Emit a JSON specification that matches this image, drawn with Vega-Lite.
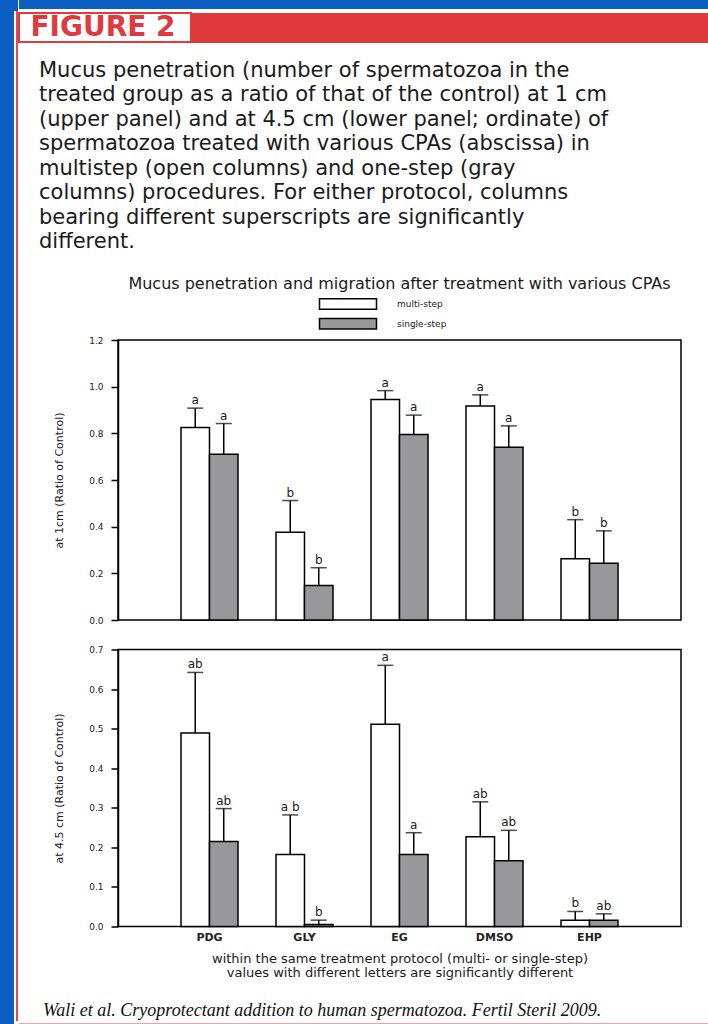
{
  "$schema": "https://vega.github.io/schema/vega-lite/v6.json",
  "background": "white",
  "padding": 0,
  "spacing": 0,
  "config": {
    "view": {"stroke": null},
    "concat": {"spacing": 0},
    "font": "DejaVu Sans"
  },
  "datasets": {
    "upper": [
      {"cpa": "PDG", "protocol": "multi-step", "mean": 0.825, "upper": 0.908, "sig": "a"},
      {"cpa": "PDG", "protocol": "single-step", "mean": 0.71, "upper": 0.842, "sig": "a"},
      {"cpa": "GLY", "protocol": "multi-step", "mean": 0.376, "upper": 0.512, "sig": "b"},
      {"cpa": "GLY", "protocol": "single-step", "mean": 0.148, "upper": 0.224, "sig": "b"},
      {"cpa": "EG", "protocol": "multi-step", "mean": 0.945, "upper": 0.983, "sig": "a"},
      {"cpa": "EG", "protocol": "single-step", "mean": 0.795, "upper": 0.878, "sig": "a"},
      {"cpa": "DMSO", "protocol": "multi-step", "mean": 0.917, "upper": 0.965, "sig": "a"},
      {"cpa": "DMSO", "protocol": "single-step", "mean": 0.74, "upper": 0.832, "sig": "a"},
      {"cpa": "EHP", "protocol": "multi-step", "mean": 0.262, "upper": 0.43, "sig": "b"},
      {"cpa": "EHP", "protocol": "single-step", "mean": 0.243, "upper": 0.382, "sig": "b"}
    ],
    "lower": [
      {"cpa": "PDG", "protocol": "multi-step", "mean": 0.489, "upper": 0.642, "sig": "ab"},
      {"cpa": "PDG", "protocol": "single-step", "mean": 0.215, "upper": 0.298, "sig": "ab"},
      {"cpa": "GLY", "protocol": "multi-step", "mean": 0.182, "upper": 0.282, "sig": "a b"},
      {"cpa": "GLY", "protocol": "single-step", "mean": 0.005, "upper": 0.016, "sig": "b"},
      {"cpa": "EG", "protocol": "multi-step", "mean": 0.511, "upper": 0.66, "sig": "a"},
      {"cpa": "EG", "protocol": "single-step", "mean": 0.182, "upper": 0.237, "sig": "a"},
      {"cpa": "DMSO", "protocol": "multi-step", "mean": 0.227, "upper": 0.315, "sig": "ab"},
      {"cpa": "DMSO", "protocol": "single-step", "mean": 0.166, "upper": 0.243, "sig": "ab"},
      {"cpa": "EHP", "protocol": "multi-step", "mean": 0.016, "upper": 0.038, "sig": "b"},
      {"cpa": "EHP", "protocol": "single-step", "mean": 0.016, "upper": 0.032, "sig": "ab"}
    ]
  },
  "hconcat": [
    {
      "spacing": 0,
      "hconcat": [
        {"width": 14, "height": 1024, "data": {"values": []}, "mark": "rect", "view": {"fill": "#0b5ec2", "stroke": null}},
        {
          "spacing": 0,
          "vconcat": [
            {"width": 4, "height": 11, "data": {"values": []}, "mark": "rect", "view": {"fill": "#0b5ec2", "stroke": null}},
            {
              "spacing": 0,
              "hconcat": [
                {"width": 2, "height": 1010, "data": {"values": []}, "mark": "rect"},
                {"width": 2, "height": 1010, "data": {"values": []}, "mark": "rect", "view": {"fill": "#e34a4e", "stroke": null}}
              ]
            }
          ]
        }
      ]
    },
    {
      "spacing": 0,
      "vconcat": [
        {"width": 690, "height": 9, "data": {"values": []}, "mark": "rect", "view": {"fill": "#0b5ec2", "stroke": null}},
        {"width": 690, "height": 3, "data": {"values": []}, "mark": "rect"},
        {
          "spacing": 0,
          "hconcat": [
            {
              "width": 172, "height": 29,
              "data": {"values": [{"t": "FIGURE 2"}]},
              "mark": {"type": "text", "fontSize": 28, "fontWeight": "bold", "color": "#e0393e", "font": "DejaVu Sans", "dx": -2},
              "encoding": {"text": {"field": "t", "type": "nominal"}},
              "view": {"fill": "white", "stroke": "#e0393e", "strokeWidth": 2}
            },
            {"width": 518, "height": 30, "data": {"values": []}, "mark": "rect", "view": {"fill": "#e0393e", "stroke": null}}
          ]
        },
        {"width": 690, "height": 16, "data": {"values": []}, "mark": "rect"},
        {
          "width": 690, "height": 1,
          "data": {"values": []},
          "mark": "rect",
          "title": {
            "text": [
              "Mucus penetration (number of spermatozoa in the",
              "treated group as a ratio of that of the control) at 1 cm",
              "(upper panel) and at 4.5 cm (lower panel; ordinate) of",
              "spermatozoa treated with various CPAs (abscissa) in",
              "multistep (open columns) and one-step (gray",
              "columns) procedures. For either protocol, columns",
              "bearing different superscripts are significantly",
              "different."
            ],
            "anchor": "start",
            "frame": "group",
            "dx": 20,
            "font": "DejaVu Sans",
            "fontSize": 21,
            "fontWeight": "normal",
            "color": "#1a1a1a",
            "lineHeight": 24.5,
            "offset": 22
          }
        },
        {
          "spacing": 0,
          "hconcat": [
            {"width": 33, "height": 1, "data": {"values": []}, "mark": "rect"},
            {
              "spacing": 18.5,
              "resolve": {"scale": {"y": "independent", "fill": "independent"}, "legend": {"fill": "independent"}},
              "vconcat": [
                {
                  "width": 563, "height": 280,
                  "data": {"name": "upper"},
                  "title": {"text": "Mucus penetration and migration after treatment with various CPAs", "fontSize": 16, "fontWeight": "normal", "color": "#1a1a1a", "anchor": "middle", "offset": 4},
                  "view": {"stroke": "black", "strokeWidth": 1.5},
                  "encoding": {
                    "x": {"field": "cpa", "type": "nominal", "sort": ["PDG", "GLY", "EG", "DMSO", "EHP"], "scale": {"paddingInner": 0.4, "paddingOuter": 0.663}, "axis": null},
                    "xOffset": {"field": "protocol", "type": "nominal", "sort": ["multi-step", "single-step"], "scale": {"paddingInner": 0, "paddingOuter": 0}}
                  },
                  "layer": [
                    {
                      "mark": {"type": "bar", "stroke": "black", "strokeWidth": 1.5},
                      "encoding": {
                        "y": {"field": "mean", "type": "quantitative", "stack": null, "title": "at 1cm (Ratio of Control)", "scale": {"domain": [0, 1.2], "nice": false},
                          "axis": {"values": [0, 0.2, 0.4, 0.6, 0.8, 1.0, 1.2], "tickCount": 20, "format": ".1f", "grid": false, "tickSize": 7, "tickWidth": 1.5, "tickColor": "black", "domainColor": "black", "domainWidth": 1.5, "labelFontSize": 9, "labelPadding": 8, "labelColor": "#222", "titleFontSize": 11, "titleFontWeight": "normal", "titleColor": "#1a1a1a", "titlePadding": 25, "minExtent": 29, "maxExtent": 29}},
                        "fill": {"field": "protocol", "type": "nominal", "sort": ["multi-step", "single-step"],
                          "scale": {"domain": ["multi-step", "single-step"], "range": ["white", "#98989c"]},
                          "legend": {"orient": "none", "legendX": 222, "legendY": -44, "title": null, "symbolType": "M-4,-0.72H4V0.72H-4Z", "symbolSize": 203, "symbolStrokeColor": "black", "symbolStrokeWidth": 1.5, "labelFontSize": 9, "labelOffset": 41, "rowPadding": 1.75, "padding": 0, "labelColor": "#1a1a1a"}}
                      }
                    },
                    {
                      "mark": {"type": "rule", "color": "black", "strokeWidth": 1.5},
                      "encoding": {
                        "y": {"field": "mean", "type": "quantitative", "title": "at 1cm (Ratio of Control)"},
                        "y2": {"field": "upper"}
                      }
                    },
                    {
                      "mark": {"type": "tick", "color": "black", "thickness": 1.5, "size": 16, "orient": "horizontal"},
                      "encoding": {"y": {"field": "upper", "type": "quantitative", "title": "at 1cm (Ratio of Control)"}}
                    },
                    {
                      "mark": {"type": "text", "baseline": "alphabetic", "dy": -4, "fontSize": 12, "color": "#1a1a1a"},
                      "encoding": {
                        "y": {"field": "upper", "type": "quantitative", "title": "at 1cm (Ratio of Control)"},
                        "text": {"field": "sig", "type": "nominal"}
                      }
                    }
                  ]
                },
                {
                  "width": 563, "height": 277,
                  "data": {"name": "lower"},
                  "view": {"stroke": "black", "strokeWidth": 1.5},
                  "encoding": {
                    "x": {"field": "cpa", "type": "nominal", "sort": ["PDG", "GLY", "EG", "DMSO", "EHP"], "scale": {"paddingInner": 0.4, "paddingOuter": 0.663},
                      "axis": {"title": ["within the same treatment protocol (multi- or single-step)", "values with different letters are significantly different"], "labelAngle": 0, "ticks": false, "domain": false, "labelFontSize": 11, "labelFontWeight": "bold", "labelColor": "#222", "labelPadding": 5, "titleFontSize": 13, "titleFontWeight": "normal", "titleColor": "#1a1a1a", "titleLineHeight": 14, "titlePadding": 10}},
                    "xOffset": {"field": "protocol", "type": "nominal", "sort": ["multi-step", "single-step"], "scale": {"paddingInner": 0, "paddingOuter": 0}}
                  },
                  "layer": [
                    {
                      "mark": {"type": "bar", "stroke": "black", "strokeWidth": 1.5},
                      "encoding": {
                        "y": {"field": "mean", "type": "quantitative", "stack": null, "title": "at 4.5 cm (Ratio of Control)", "scale": {"domain": [0, 0.7], "nice": false},
                          "axis": {"values": [0, 0.1, 0.2, 0.3, 0.4, 0.5, 0.6, 0.7], "tickCount": 20, "format": ".1f", "grid": false, "tickSize": 7, "tickWidth": 1.5, "tickColor": "black", "domainColor": "black", "domainWidth": 1.5, "labelFontSize": 9, "labelPadding": 8, "labelColor": "#222", "titleFontSize": 11, "titleFontWeight": "normal", "titleColor": "#1a1a1a", "titlePadding": 25, "minExtent": 29, "maxExtent": 29}},
                        "fill": {"field": "protocol", "type": "nominal", "sort": ["multi-step", "single-step"],
                          "scale": {"domain": ["multi-step", "single-step"], "range": ["white", "#98989c"]},
                          "legend": null}
                      }
                    },
                    {
                      "mark": {"type": "rule", "color": "black", "strokeWidth": 1.5},
                      "encoding": {
                        "y": {"field": "mean", "type": "quantitative", "title": "at 4.5 cm (Ratio of Control)"},
                        "y2": {"field": "upper"}
                      }
                    },
                    {
                      "mark": {"type": "tick", "color": "black", "thickness": 1.5, "size": 16, "orient": "horizontal"},
                      "encoding": {"y": {"field": "upper", "type": "quantitative", "title": "at 4.5 cm (Ratio of Control)"}}
                    },
                    {
                      "mark": {"type": "text", "baseline": "alphabetic", "dy": -4, "fontSize": 12, "color": "#1a1a1a"},
                      "encoding": {
                        "y": {"field": "upper", "type": "quantitative", "title": "at 4.5 cm (Ratio of Control)"},
                        "text": {"field": "sig", "type": "nominal"}
                      }
                    }
                  ]
                }
              ]
            }
          ]
        },
        {"width": 690, "height": 21, "data": {"values": []}, "mark": "rect"},
        {
          "width": 690, "height": 2,
          "data": {"values": []},
          "mark": "rect",
          "view": {"fill": "#f2a3a5", "stroke": null},
          "title": {"text": "Wali et al. Cryoprotectant addition to human spermatozoa. Fertil Steril 2009.", "anchor": "start", "frame": "group", "dx": 24, "font": "Liberation Serif", "fontStyle": "italic", "fontSize": 18, "fontWeight": "normal", "color": "#111", "offset": 3}
        }
      ]
    }
  ]
}
